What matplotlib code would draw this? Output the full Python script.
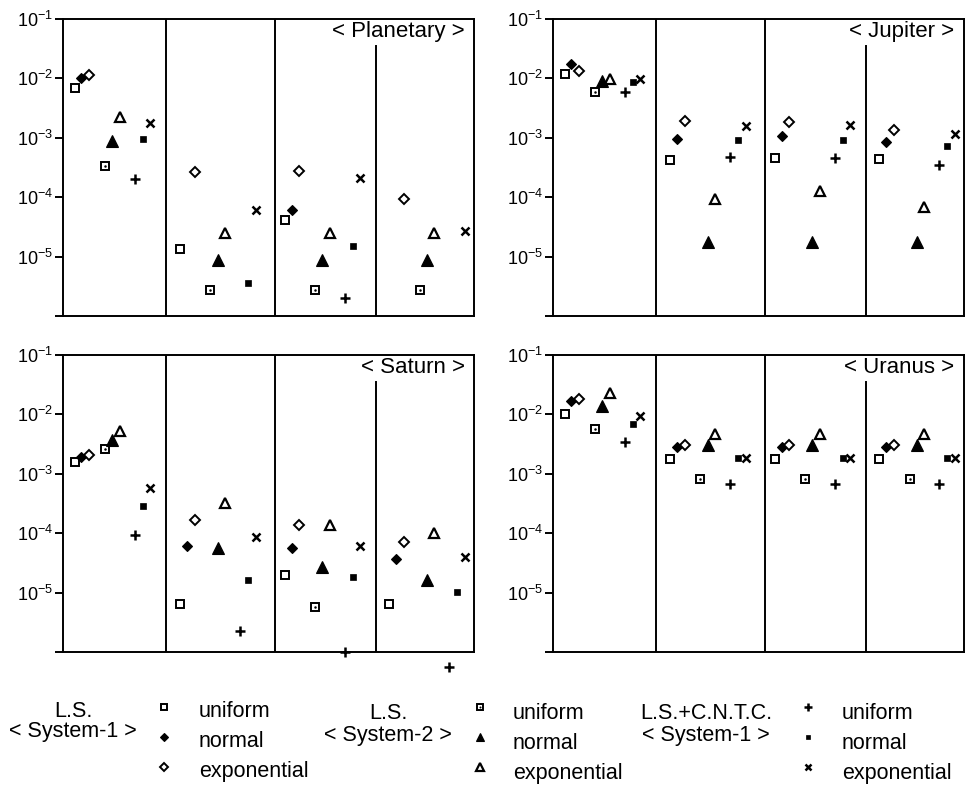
import numpy as np
import matplotlib.pyplot as plt
from matplotlib.ticker import FixedLocator, FixedFormatter, NullLocator

plt.rcParams['font.family'] = ['Liberation Sans', 'DejaVu Sans']
plt.rcParams['mathtext.fontset'] = 'custom'
plt.rcParams['mathtext.rm'] = 'Liberation Sans'

nan = np.nan

# one row per case block, nine methods per row:
# LS sys-1 (uniform, normal, exponential), LS sys-2 (...), LS+CNTC sys-1 (...)
planetary = [
    [6.8e-3, 1.0e-2, 1.12e-2, 3.3e-4, 9.0e-4, 2.2e-3, 2.0e-4, 9.4e-4, 1.75e-3],
    [1.35e-5, nan, 2.65e-4, 2.7e-6, 8.7e-6, 2.5e-5, nan, 3.6e-6, 6.0e-5],
    [4.2e-5, 6.0e-5, 2.8e-4, 2.7e-6, 8.7e-6, 2.5e-5, 2.0e-6, 1.5e-5, 2.1e-4],
    [nan, nan, 9.4e-5, 2.7e-6, 8.7e-6, 2.5e-5, nan, nan, 2.7e-5],
]
jupiter = [
    [1.2e-2, 1.75e-2, 1.35e-2, 6.0e-3, 9.2e-3, 9.6e-3, 6.0e-3, 8.8e-3, 9.6e-3],
    [4.3e-4, 9.6e-4, 1.95e-3, nan, 1.75e-5, 9.3e-5, 4.8e-4, 9.3e-4, 1.6e-3],
    [4.6e-4, 1.06e-3, 1.85e-3, nan, 1.75e-5, 1.25e-4, 4.6e-4, 9.2e-4, 1.65e-3],
    [4.4e-4, 8.5e-4, 1.37e-3, nan, 1.75e-5, 6.9e-5, 3.5e-4, 7.4e-4, 1.17e-3],
]
saturn = [
    [1.55e-3, 1.9e-3, 2.1e-3, 2.6e-3, 3.7e-3, 5.2e-3, 9.4e-5, 2.9e-4, 5.7e-4],
    [6.5e-6, 6.0e-5, 1.7e-4, nan, 5.7e-5, 3.2e-4, 2.3e-6, 1.6e-5, 8.7e-5],
    [1.95e-5, 5.6e-5, 1.35e-4, 5.7e-6, 2.7e-5, 1.4e-4, 1.0e-6, 1.85e-5, 6.2e-5],
    [6.5e-6, 3.7e-5, 7.1e-5, nan, 1.6e-5, 1.0e-4, 5.7e-7, 1.04e-5, 3.9e-5],
]
uranus = [
    [1.0e-2, 1.7e-2, 1.8e-2, 5.6e-3, 1.4e-2, 2.3e-2, 3.4e-3, 7.0e-3, 9.4e-3],
    [1.8e-3, 2.8e-3, 3.0e-3, 8.1e-4, 3.0e-3, 4.7e-3, 6.7e-4, 1.85e-3, 1.85e-3],
    [1.8e-3, 2.8e-3, 3.0e-3, 8.1e-4, 3.0e-3, 4.7e-3, 6.7e-4, 1.85e-3, 1.85e-3],
    [1.8e-3, 2.8e-3, 3.0e-3, 8.1e-4, 3.0e-3, 4.7e-3, 6.7e-4, 1.85e-3, 1.85e-3],
]

titles = ['< Planetary >', '< Jupiter >', '< Saturn >', '< Uranus >']
methods = ['uniform', 'normal', 'exponential']
systems = [('L.S.', '< System-1 >'), ('L.S.', '< System-2 >'),
           ('L.S.+C.N.T.C.', '< System-1 >')]
yticks = [1e-6, 1e-5, 1e-4, 1e-3, 1e-2, 1e-1]
ytick_labels = ['', r'$\mathregular{10^{-5}}$', r'$\mathregular{10^{-4}}$',
                r'$\mathregular{10^{-3}}$', r'$\mathregular{10^{-2}}$',
                r'$\mathregular{10^{-1}}$']

# layout of the blocks inside a panel
GROUP_X = np.array([0.0, 1.025, 2.045, 3.06])
OFFSETS = [0.115, 0.18, 0.255, 0.41, 0.48, 0.555, 0.70, 0.775, 0.85]
DIVIDERS = [1.0, 2.065, 3.05]

STYLES = [
    dict(marker='s', ms=6, mfc='white', mec='k', mew=1.4),
    dict(marker='D', ms=5.5, mfc='k', mec='k', mew=0.8),
    dict(marker='D', ms=5, mfc='white', mec='k', mew=1.4),
    dict(marker='s', ms=6, mfc='white', mec='k', mew=1.4),
    dict(marker='^', ms=8, mfc='k', mec='k', mew=0.8),
    dict(marker='^', ms=7.5, mfc='white', mec='k', mew=1.6),
    dict(marker='+', ms=7, mec='k', mew=1.8),
    dict(marker='s', ms=3.8, mfc='k', mec='k', mew=0.5),
    dict(marker='x', ms=6, mec='k', mew=1.8),
]


def put_marker(ax, x, y, k, scale=1.0):
    st = dict(STYLES[k])
    st['ms'] = st['ms'] * scale
    ax.plot(x, y, ls='none', clip_on=False, **st)
    if k == 3:  # dotted square
        ax.plot(x, y, ls='none', marker='o', ms=1.8 * scale, mew=0,
                color='k', clip_on=False)


def draw_panel(ax, data, title):
    data = np.array(data, dtype=float)
    for k in range(9):
        put_marker(ax, GROUP_X + OFFSETS[k], data[:, k], k)

    ax.set_yscale('log')
    ax.set_ylim(1e-6, 1e-1)
    ax.set_xlim(0, 4)
    ax.set_xticks([])
    ax.yaxis.set_major_locator(FixedLocator(yticks))
    ax.yaxis.set_major_formatter(FixedFormatter(ytick_labels))
    ax.yaxis.set_minor_locator(NullLocator())
    ax.tick_params(axis='y', direction='out', length=6, width=1.4, pad=1,
                   labelsize=13)
    for sp in ax.spines.values():
        sp.set_linewidth(1.4)

    ax.axvline(DIVIDERS[0], color='k', lw=1.4)
    ax.axvline(DIVIDERS[1], color='k', lw=1.4)
    ax.axvline(DIVIDERS[2], ymax=0.908, color='k', lw=1.4)
    ax.text(0.977, 0.94, title, transform=ax.transAxes, ha='right',
            va='baseline', fontsize=16)


fig = plt.figure(figsize=(9.68, 7.89), dpi=100)
W, H = 968, 789
boxes = [(63, 19), (553, 19), (63, 355), (553, 355)]
for (x0, y0), data, title in zip(boxes, [planetary, jupiter, saturn, uranus], titles):
    ax = fig.add_axes([x0 / W, 1 - (y0 + 297) / H, 411 / W, 297 / H])
    draw_panel(ax, data, title)

# legend, laid out in pixel coordinates
lg = fig.add_axes([0, 0, 1, 110 / H])
lg.set_xlim(0, W)
lg.set_ylim(H, H - 110)
lg.axis('off')

label_x = [73, 388, 706]
label_y = [(717, 737), (719, 741), (719, 741)]
marker_x = [164, 480, 808]
text_x = [199, 513, 842]
row_marker_y = [707, 737, 767]
row_text_y = [717, 747, 777]
for g in range(3):
    top, bottom = systems[g]
    lg.text(label_x[g], label_y[g][0], top, ha='center', va='baseline', fontsize=15.5)
    lg.text(label_x[g], label_y[g][1], bottom, ha='center', va='baseline', fontsize=15.5)
    for r in range(3):
        put_marker(lg, marker_x[g], row_marker_y[r], g * 3 + r, scale=0.8)
        lg.text(text_x[g], row_text_y[r] + (2 if g else 0), methods[r],
                ha='left', va='baseline', fontsize=15.5)

fig.savefig('out.png', dpi=100)
